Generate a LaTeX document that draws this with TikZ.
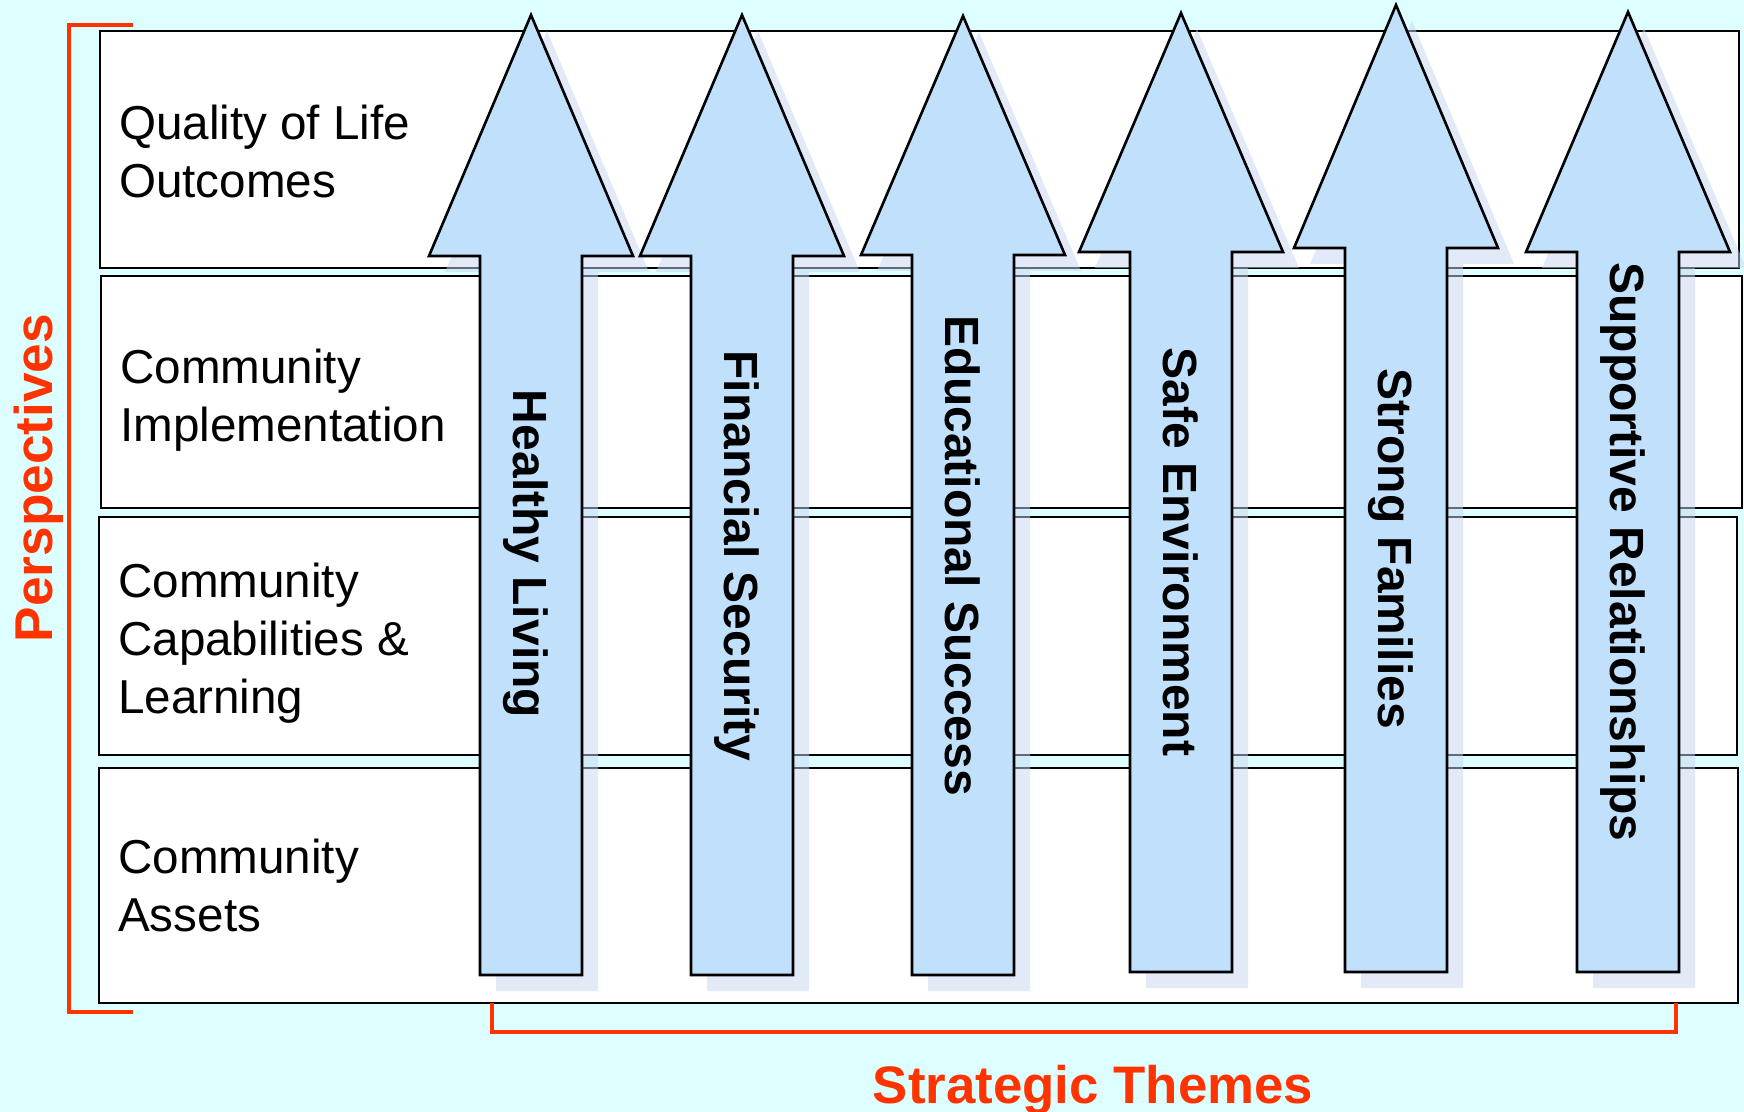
\documentclass[tikz,border=0pt]{standalone}
\usepackage{fontspec}
\setmainfont{Liberation Sans}
\definecolor{bgcyan}{RGB}{221,255,255}
\definecolor{arrowblue}{RGB}{192,224,252}
\definecolor{shadowblue}{RGB}{200,214,240}
\definecolor{bracketred}{RGB}{255,51,0}
\begin{document}
\begin{tikzpicture}[x=0.5pt,y=-0.5pt,
  rowbox/.style={shape=rectangle,draw=black,fill=white,line width=1.2pt,inner sep=0pt},
  rowlabel/.style={anchor=west,align=left,inner sep=0pt,font=\fontsize{23.8}{29}\selectfont},
  themearrow/.style={draw=black,fill=arrowblue,line width=1.3pt,
    preaction={fill=shadowblue,fill opacity=0.5,transform canvas={xshift=8pt,yshift=-8pt}}},
  themelabel/.style={anchor=base,rotate=-90,inner sep=0pt,font=\fontsize{24}{29}\selectfont\bfseries},
  bracket/.style={draw=bracketred,line width=2pt},
  bracketlabel/.style={anchor=base,inner sep=0pt,text=bracketred,font=\fontsize{26.4}{32}\selectfont\bfseries}]
\useasboundingbox (0,0) rectangle (1744,1112);
\path[fill=bgcyan] (0,0) rectangle (1744,1112);

\node[rowbox,minimum width=819.5pt,minimum height=118.5pt](qol) at (919.5,149.5) {};
\node[rowbox,minimum width=820.5pt,minimum height=116pt](impl) at (921.5,392) {};
\node[rowbox,minimum width=819pt,minimum height=119pt](capab) at (918,636) {};
\node[rowbox,minimum width=819.5pt,minimum height=117.5pt](assets) at (918.5,885.5) {};

\node[rowlabel](qoltext) at ([xshift=10pt,yshift=-1pt]qol.west) {Quality of Life\\Outcomes};
\node[rowlabel](impltext) at ([xshift=10pt,yshift=-4.2pt]impl.west) {Community\\Implementation};
\node[rowlabel](capabtext) at ([xshift=10pt,yshift=-3.4pt]capab.west) {Community\\Capabilities \&\\Learning};
\node[rowlabel](assetstext) at ([xshift=10pt]assets.west) {Community\\Assets};

%
\path[themearrow] (531,15) -- ++(102,241) -- ++(-51,0) -- ++(0,719) -- ++(-102,0) -- ++(0,-719) -- ++(-51,0) -- cycle;
\path[themearrow] (742,15) -- ++(102,241) -- ++(-51,0) -- ++(0,719) -- ++(-102,0) -- ++(0,-719) -- ++(-51,0) -- cycle;
\path[themearrow] (963,16) -- ++(102,239) -- ++(-51,0) -- ++(0,720) -- ++(-102,0) -- ++(0,-720) -- ++(-51,0) -- cycle;
\path[themearrow] (1181,13) -- ++(102,239) -- ++(-51,0) -- ++(0,720) -- ++(-102,0) -- ++(0,-720) -- ++(-51,0) -- cycle;
\path[themearrow] (1396,5) -- ++(102,243) -- ++(-51,0) -- ++(0,724) -- ++(-102,0) -- ++(0,-724) -- ++(-51,0) -- cycle;
\path[themearrow] (1628,12) -- ++(102,240) -- ++(-51,0) -- ++(0,720) -- ++(-102,0) -- ++(0,-720) -- ++(-51,0) -- cycle;

\node[themelabel](healthy) at (513,554) {Healthy Living};
\node[themelabel](financial) at (724,556) {Financial Security};
\node[themelabel](educ) at (945,556) {Educational Success};
\node[themelabel](safe) at (1163,552) {Safe Environment};
\node[themelabel](strong) at (1378,549) {Strong Families};
\node[themelabel](support) at (1610,552) {Supportive Relationships};

%
\coordinate(ptop) at (133,25);
\coordinate(pbot) at (133,1012);
\draw[bracket] (ptop) -- ++(-64,0) |- (pbot);
\coordinate(sleft) at (492,1003);
\coordinate(sright) at (1676,1003);
\draw[bracket] (sleft) -- ++(0,29) -| (sright);

\node[bracketlabel,rotate=90,font=\fontsize{26.6}{32}\selectfont\bfseries](persp) at (52,478) {Perspectives};
\node[bracketlabel](themes) at (1093,1103) {Strategic Themes};
\end{tikzpicture}
\end{document}
